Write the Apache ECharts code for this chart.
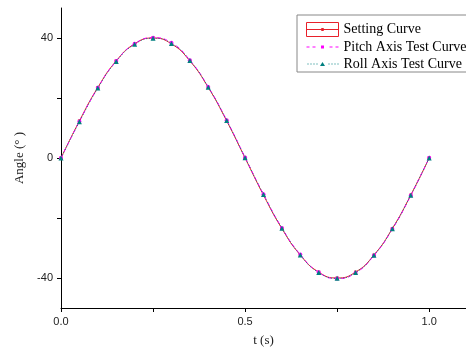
<!DOCTYPE html>
<html>
<head>
<meta charset="utf-8">
<script src="https://cdn.jsdelivr.net/npm/echarts@6/dist/echarts.min.js"></script>
<style>
  html, body { margin: 0; padding: 0; background: #fff; }
  #chart { width: 466px; height: 353px; }
</style>
</head>
<body>
<div id="chart"></div>
<script>
const times = [0, 0.05, 0.1, 0.15, 0.2, 0.25, 0.3, 0.35, 0.4, 0.45, 0.5,
  0.55, 0.6, 0.65, 0.7, 0.75, 0.8, 0.85, 0.9, 0.95, 1.0];
const settingAngles = [0, 12.36, 23.51, 32.36, 38.04, 40, 38.04, 32.36, 23.51, 12.36, 0,
  -12.36, -23.51, -32.36, -38.04, -40, -38.04, -32.36, -23.51, -12.36, 0];
const pitchAngles = [0, 12.2, 23.4, 32.3, 38.1, 40.1, 38.4, 32.6, 23.7, 12.6, 0.2,
  -12.1, -23.3, -32.2, -38.1, -40.2, -38.3, -32.5, -23.7, -12.5, 0.1];
const rollAngles = [0, 12.1, 23.3, 32.2, 37.9, 39.9, 38.2, 32.5, 23.6, 12.5, 0.1,
  -12.2, -23.4, -32.3, -38.2, -40.1, -38.2, -32.4, -23.6, -12.4, 0];
const xTickValues = [0, 0.25, 0.5, 0.75, 1.0];
const xLabelValues = [0, 0.5, 1.0];
const yTickValues = [-40, -20, 0, 20, 40];
const yLabelValues = [-40, 0, 40];

const chart = echarts.init(document.getElementById("chart"));

const pairs = (ys) => times.map((t, i) => [t, ys[i]]);

// legend icons drawn as paths in a 32x14 box (Origin style)
const settingIcon = "path://M0,0L32,0L32,14L0,14ZM0,7L32,7M15,6L17,6L17,8L15,8Z";
const pitchIcon = "path://M0,0M32,14M0,6.5h3v1h-3ZM6,6.5h3v1h-3ZM23,6.5h3v1h-3ZM29,6.5h3v1h-3Z" +
  "M14.5,5.5h3v3h-3Z";
const rollIcon = "path://M0,0M32,14M1,6.5h1v1h-1ZM4,6.5h1v1h-1ZM7,6.5h1v1h-1ZM10,6.5h1v1h-1Z" +
  "M22,6.5h1v1h-1ZM25,6.5h1v1h-1ZM28,6.5h1v1h-1ZM31,6.5h1v1h-1ZM16,5L18.5,9L13.5,9Z";

const axisCommon = {
  axisLine: { show: true, onZero: false, lineStyle: { color: "#000", width: 1 } },
  axisTick: { show: true, inside: false, length: 4, lineStyle: { color: "#000" } },
  splitLine: { show: false },
  axisLabel: { color: "#222", fontFamily: "Liberation Sans", fontSize: 11 },
  nameTextStyle: { color: "#222", fontFamily: "Liberation Serif", fontSize: 13 },
};

const option = {
  animation: false,
  backgroundColor: "#fff",
  grid: { left: 61, right: 0, top: 8, bottom: 45, containLabel: false },
  legend: {
    orient: "vertical",
    left: 297,
    top: 15,
    padding: [7, 6, 1, 9],
    itemWidth: 32,
    itemHeight: 14,
    itemGap: 3,
    borderColor: "#888",
    borderWidth: 1,
    backgroundColor: "#fff",
    textStyle: { color: "#000", fontFamily: "Liberation Serif", fontSize: 14, lineHeight: 14 },
    data: [
      {
        name: "Setting Curve",
        icon: settingIcon,
        itemStyle: { color: "transparent", borderColor: "#e8202a", borderWidth: 1 },
      },
      {
        name: "Pitch Axis Test Curve",
        icon: pitchIcon,
        itemStyle: { color: "#ff00ff", borderWidth: 0 },
      },
      {
        name: "Roll Axis Test Curve",
        icon: rollIcon,
        itemStyle: { color: "#007f7f", borderWidth: 0 },
      },
    ],
  },
  xAxis: {
    ...axisCommon,
    type: "value",
    min: 0,
    max: 1.1,
    name: "t (s)",
    nameLocation: "middle",
    nameGap: 26,
    axisTick: { ...axisCommon.axisTick, customValues: xTickValues },
    axisLabel: {
      ...axisCommon.axisLabel,
      customValues: xLabelValues,
      margin: 8,
      formatter: (v) => v.toFixed(1),
    },
  },
  yAxis: {
    ...axisCommon,
    type: "value",
    min: -50,
    max: 50,
    name: "Angle (° )",
    nameLocation: "middle",
    nameGap: 35,
    axisTick: { ...axisCommon.axisTick, customValues: yTickValues },
    axisLabel: { ...axisCommon.axisLabel, customValues: yLabelValues, margin: 8 },
  },
  series: [
    {
      name: "Setting Curve",
      type: "line",
      smooth: true,
      data: pairs(settingAngles),
      symbol: "rect",
      symbolSize: 3,
      itemStyle: { color: "#e8202a" },
      lineStyle: { color: "#e8202a", width: 1 },
    },
    {
      name: "Pitch Axis Test Curve",
      type: "line",
      smooth: true,
      data: pairs(pitchAngles),
      symbol: "circle",
      symbolSize: 4,
      itemStyle: { color: "#ff00ff" },
      lineStyle: { color: "#ff00ff", width: 1, type: [4, 3] },
    },
    {
      name: "Roll Axis Test Curve",
      type: "line",
      smooth: true,
      data: pairs(rollAngles),
      symbol: "triangle",
      symbolSize: 5,
      itemStyle: { color: "#007f7f" },
      lineStyle: { color: "#007f7f", width: 1, type: [1, 2] },
    },
  ],
};

chart.setOption(option);
</script>
</body>
</html>
